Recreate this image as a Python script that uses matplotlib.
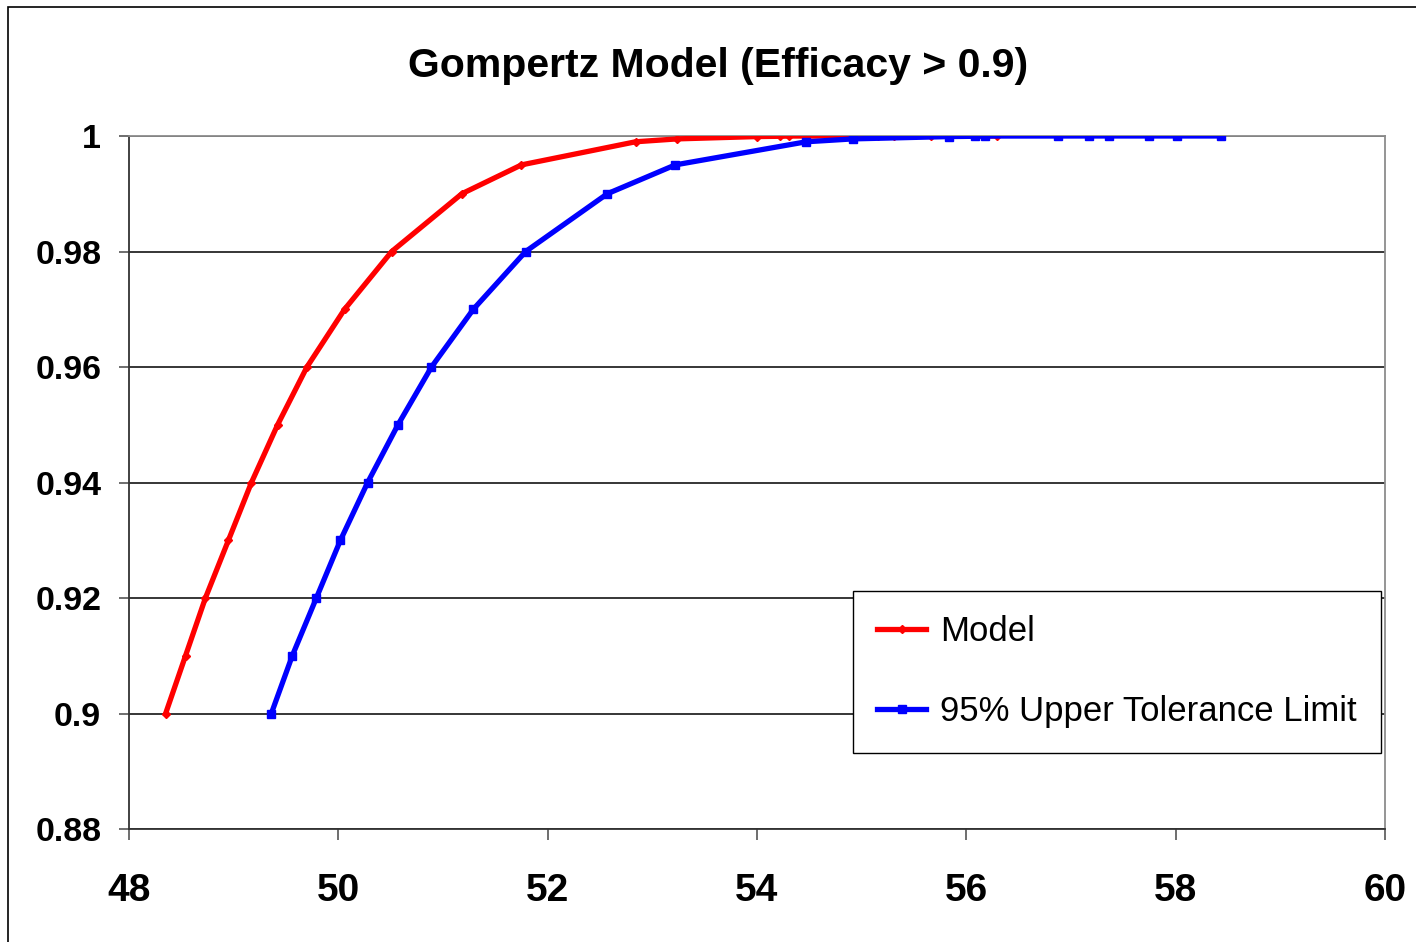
import matplotlib
matplotlib.use("Agg")
import matplotlib.pyplot as plt
from matplotlib.patches import Rectangle

# values
model_x = [48.35, 48.54, 48.73, 48.95, 49.17, 49.42, 49.70, 50.06, 50.51, 51.18,
           51.75, 52.84, 53.24, 54.00, 54.22, 54.31, 54.93, 55.16, 55.31, 55.66, 56.29]
model_y = [0.90, 0.91, 0.92, 0.93, 0.94, 0.95, 0.96, 0.97, 0.98, 0.99,
           0.995, 0.999, 0.9995, 0.9999, 0.99995, 0.99999, 0.999995, 0.999999,
           0.9999995, 0.9999999, 0.99999995]
utl_x = [49.36, 49.56, 49.79, 50.02, 50.28, 50.57, 50.89, 51.29, 51.79, 52.57,
         53.22, 54.47, 54.92, 55.83, 56.08, 56.18, 56.88, 57.17, 57.36, 57.75,
         58.01, 58.43]
utl_y = [0.90, 0.91, 0.92, 0.93, 0.94, 0.95, 0.96, 0.97, 0.98, 0.99,
         0.995, 0.999, 0.9995, 0.9999, 0.99995, 0.99999, 0.999995, 0.999999,
         0.9999995, 0.9999999, 0.99999995, 0.99999999]
x_ticks = [48, 50, 52, 54, 56, 58, 60]
y_ticks = [0.88, 0.90, 0.92, 0.94, 0.96, 0.98, 1.00]
y_labels = ["0.88", "0.9", "0.92", "0.94", "0.96", "0.98", "1"]
title = "Gompertz Model (Efficacy > 0.9)"

plt.rcParams["font.family"] = ["Liberation Sans", "DejaVu Sans"]

W, H = 1416, 942
fig = plt.figure(figsize=(W / 100, H / 100), dpi=100)
ax = fig.add_axes([129 / W, 1 - 829 / H, (1385 - 129) / W, (829 - 136) / H])

# outer chart frame, cut off at right and bottom as in the reference
fig.patches.append(Rectangle((8 / W, -0.05), 1.2, 1 - 7 / H + 0.05,
                             transform=fig.transFigure, fill=False,
                             edgecolor="black", linewidth=1.2))

ax.plot(model_x, model_y, color="#ff0000", linewidth=3.8, marker="D",
        markersize=4, label="Model", zorder=3)
ax.plot(utl_x, utl_y, color="#0000ff", linewidth=3.8, marker="s",
        markersize=6, label="95% Upper Tolerance Limit", zorder=4)

ax.set_xlim(48, 60)
ax.set_ylim(0.88, 1.0)
ax.set_xticks(x_ticks)
ax.set_xticklabels([str(t) for t in x_ticks], fontsize=28, fontweight="bold")
ax.set_yticks(y_ticks)
ax.set_yticklabels(y_labels, fontsize=24.5, fontweight="bold")
ax.tick_params(axis="x", direction="out", length=8, width=1.2, color="#555555", pad=24)
ax.tick_params(axis="y", direction="out", length=7, width=1.2, color="#555555", pad=13)
ax.grid(axis="y", color="black", linewidth=1.1)
ax.set_axisbelow(True)
for side in ("top", "right"):
    ax.spines[side].set_color("#8c8c8c")
    ax.spines[side].set_linewidth(1.3)
for side in ("left", "bottom"):
    ax.spines[side].set_color("#333333")
    ax.spines[side].set_linewidth(1.3)

fig.text(718 / W, 1 - 77 / H, title, fontsize=29.5, fontweight="bold",
         ha="center", va="baseline")

leg = ax.legend(loc="upper left", bbox_to_anchor=(0.5764, 0.3434),
                fontsize=25, frameon=True, fancybox=False, framealpha=1,
                edgecolor="black", handlelength=1.4, handletextpad=0.4,
                labelspacing=1.35, borderpad=0.7, borderaxespad=0)
leg.get_frame().set_linewidth(1.0)

fig.savefig("out.png", dpi=100)
